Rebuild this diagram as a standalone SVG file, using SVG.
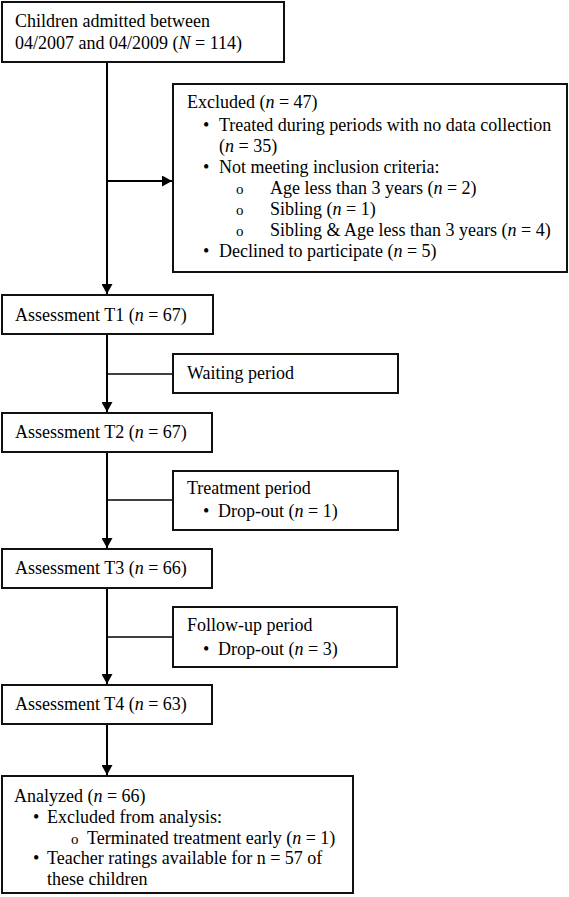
<svg xmlns="http://www.w3.org/2000/svg" width="569" height="897" viewBox="0 0 569 897">
<defs>
<marker id="ah" markerWidth="11" markerHeight="11" refX="10" refY="5.5" orient="auto" markerUnits="userSpaceOnUse">
<path d="M0,0 L10,5.5 L0,11 Z" fill="#000"/>
</marker>
<style>
.box{fill:#fff;stroke:#111;stroke-width:2}
text{font-family:"Liberation Serif","Times New Roman",serif;font-size:18px;fill:#000}
.i{font-style:italic}
.main{stroke:#000;stroke-width:2;fill:none}
.br{stroke:#000;stroke-width:1.6;fill:none}
.sub{font-size:15px}
</style>
</defs>
<rect width="569" height="897" fill="#fff"/>
<g id="connectors">
<line class="main" x1="107" y1="62" x2="107" y2="294" marker-end="url(#ah)"/>
<line class="main" x1="107" y1="181" x2="172" y2="181" marker-end="url(#ah)"/>
<line class="main" x1="107" y1="334" x2="107" y2="412" marker-end="url(#ah)"/>
<line class="br" x1="107" y1="374" x2="172" y2="374"/>
<line class="main" x1="107" y1="452" x2="107" y2="548" marker-end="url(#ah)"/>
<line class="br" x1="107" y1="500" x2="172" y2="500"/>
<line class="main" x1="107" y1="588" x2="107" y2="684" marker-end="url(#ah)"/>
<line class="br" x1="107" y1="637" x2="172" y2="637"/>
<line class="main" x1="107" y1="724" x2="107" y2="775" marker-end="url(#ah)"/>
</g>
<g id="admitted">
<rect class="box" x="2" y="2" width="282" height="60"/>
<text x="15" y="27">Children admitted between</text>
<text x="15" y="49">04/2007 and 04/2009 (<tspan class="i">N</tspan> = 114)</text>
</g>
<g id="excluded">
<rect class="box" x="173" y="84" width="394" height="188"/>
<text x="187" y="108">Excluded (<tspan class="i">n</tspan> = 47)</text>
<text x="203" y="131">•</text><text x="219" y="131">Treated during periods with no data collection</text>
<text x="219" y="152">(<tspan class="i">n</tspan> = 35)</text>
<text x="203" y="173">•</text><text x="219" y="173">Not meeting inclusion criteria:</text>
<text x="236" y="194" class="sub">o</text><text x="270" y="194">Age less than 3 years (<tspan class="i">n</tspan> = 2)</text>
<text x="236" y="215" class="sub">o</text><text x="270" y="215">Sibling (<tspan class="i">n</tspan> = 1)</text>
<text x="236" y="236" class="sub">o</text><text x="270" y="236">Sibling &amp; Age less than 3 years (<tspan class="i">n</tspan> = 4)</text>
<text x="203" y="257">•</text><text x="219" y="257">Declined to participate (<tspan class="i">n</tspan> = 5)</text>
</g>
<g id="t1">
<rect class="box" x="2" y="295" width="211" height="39"/>
<text x="15" y="321">Assessment T1 (<tspan class="i">n</tspan> = 67)</text>
</g>
<g id="waiting">
<rect class="box" x="173" y="354" width="225" height="39"/>
<text x="187" y="379">Waiting period</text>
</g>
<g id="t2">
<rect class="box" x="2" y="413" width="210" height="39"/>
<text x="15" y="438">Assessment T2 (<tspan class="i">n</tspan> = 67)</text>
</g>
<g id="treatment">
<rect class="box" x="173" y="471" width="225" height="59"/>
<text x="187" y="494">Treatment period</text>
<text x="203" y="517">•</text><text x="218" y="517">Drop-out (<tspan class="i">n</tspan> = 1)</text>
</g>
<g id="t3">
<rect class="box" x="2" y="549" width="210" height="39"/>
<text x="15" y="574">Assessment T3 (<tspan class="i">n</tspan> = 66)</text>
</g>
<g id="followup">
<rect class="box" x="173" y="607" width="224" height="60"/>
<text x="187" y="631">Follow-up period</text>
<text x="203" y="655">•</text><text x="218" y="655">Drop-out (<tspan class="i">n</tspan> = 3)</text>
</g>
<g id="t4">
<rect class="box" x="2" y="685" width="210" height="39"/>
<text x="15" y="710">Assessment T4 (<tspan class="i">n</tspan> = 63)</text>
</g>
<g id="analyzed">
<rect class="box" x="2" y="776" width="351" height="117"/>
<text x="14" y="802">Analyzed (<tspan class="i">n</tspan> = 66)</text>
<text x="33" y="823">•</text><text x="47" y="823">Excluded from analysis:</text>
<text x="71" y="844" class="sub">o</text><text x="87" y="844">Terminated treatment early (<tspan class="i">n</tspan> = 1)</text>
<text x="33" y="864">•</text><text x="47" y="864">Teacher ratings available for n = 57 of</text>
<text x="47" y="885">these children</text>
</g>
</svg>
